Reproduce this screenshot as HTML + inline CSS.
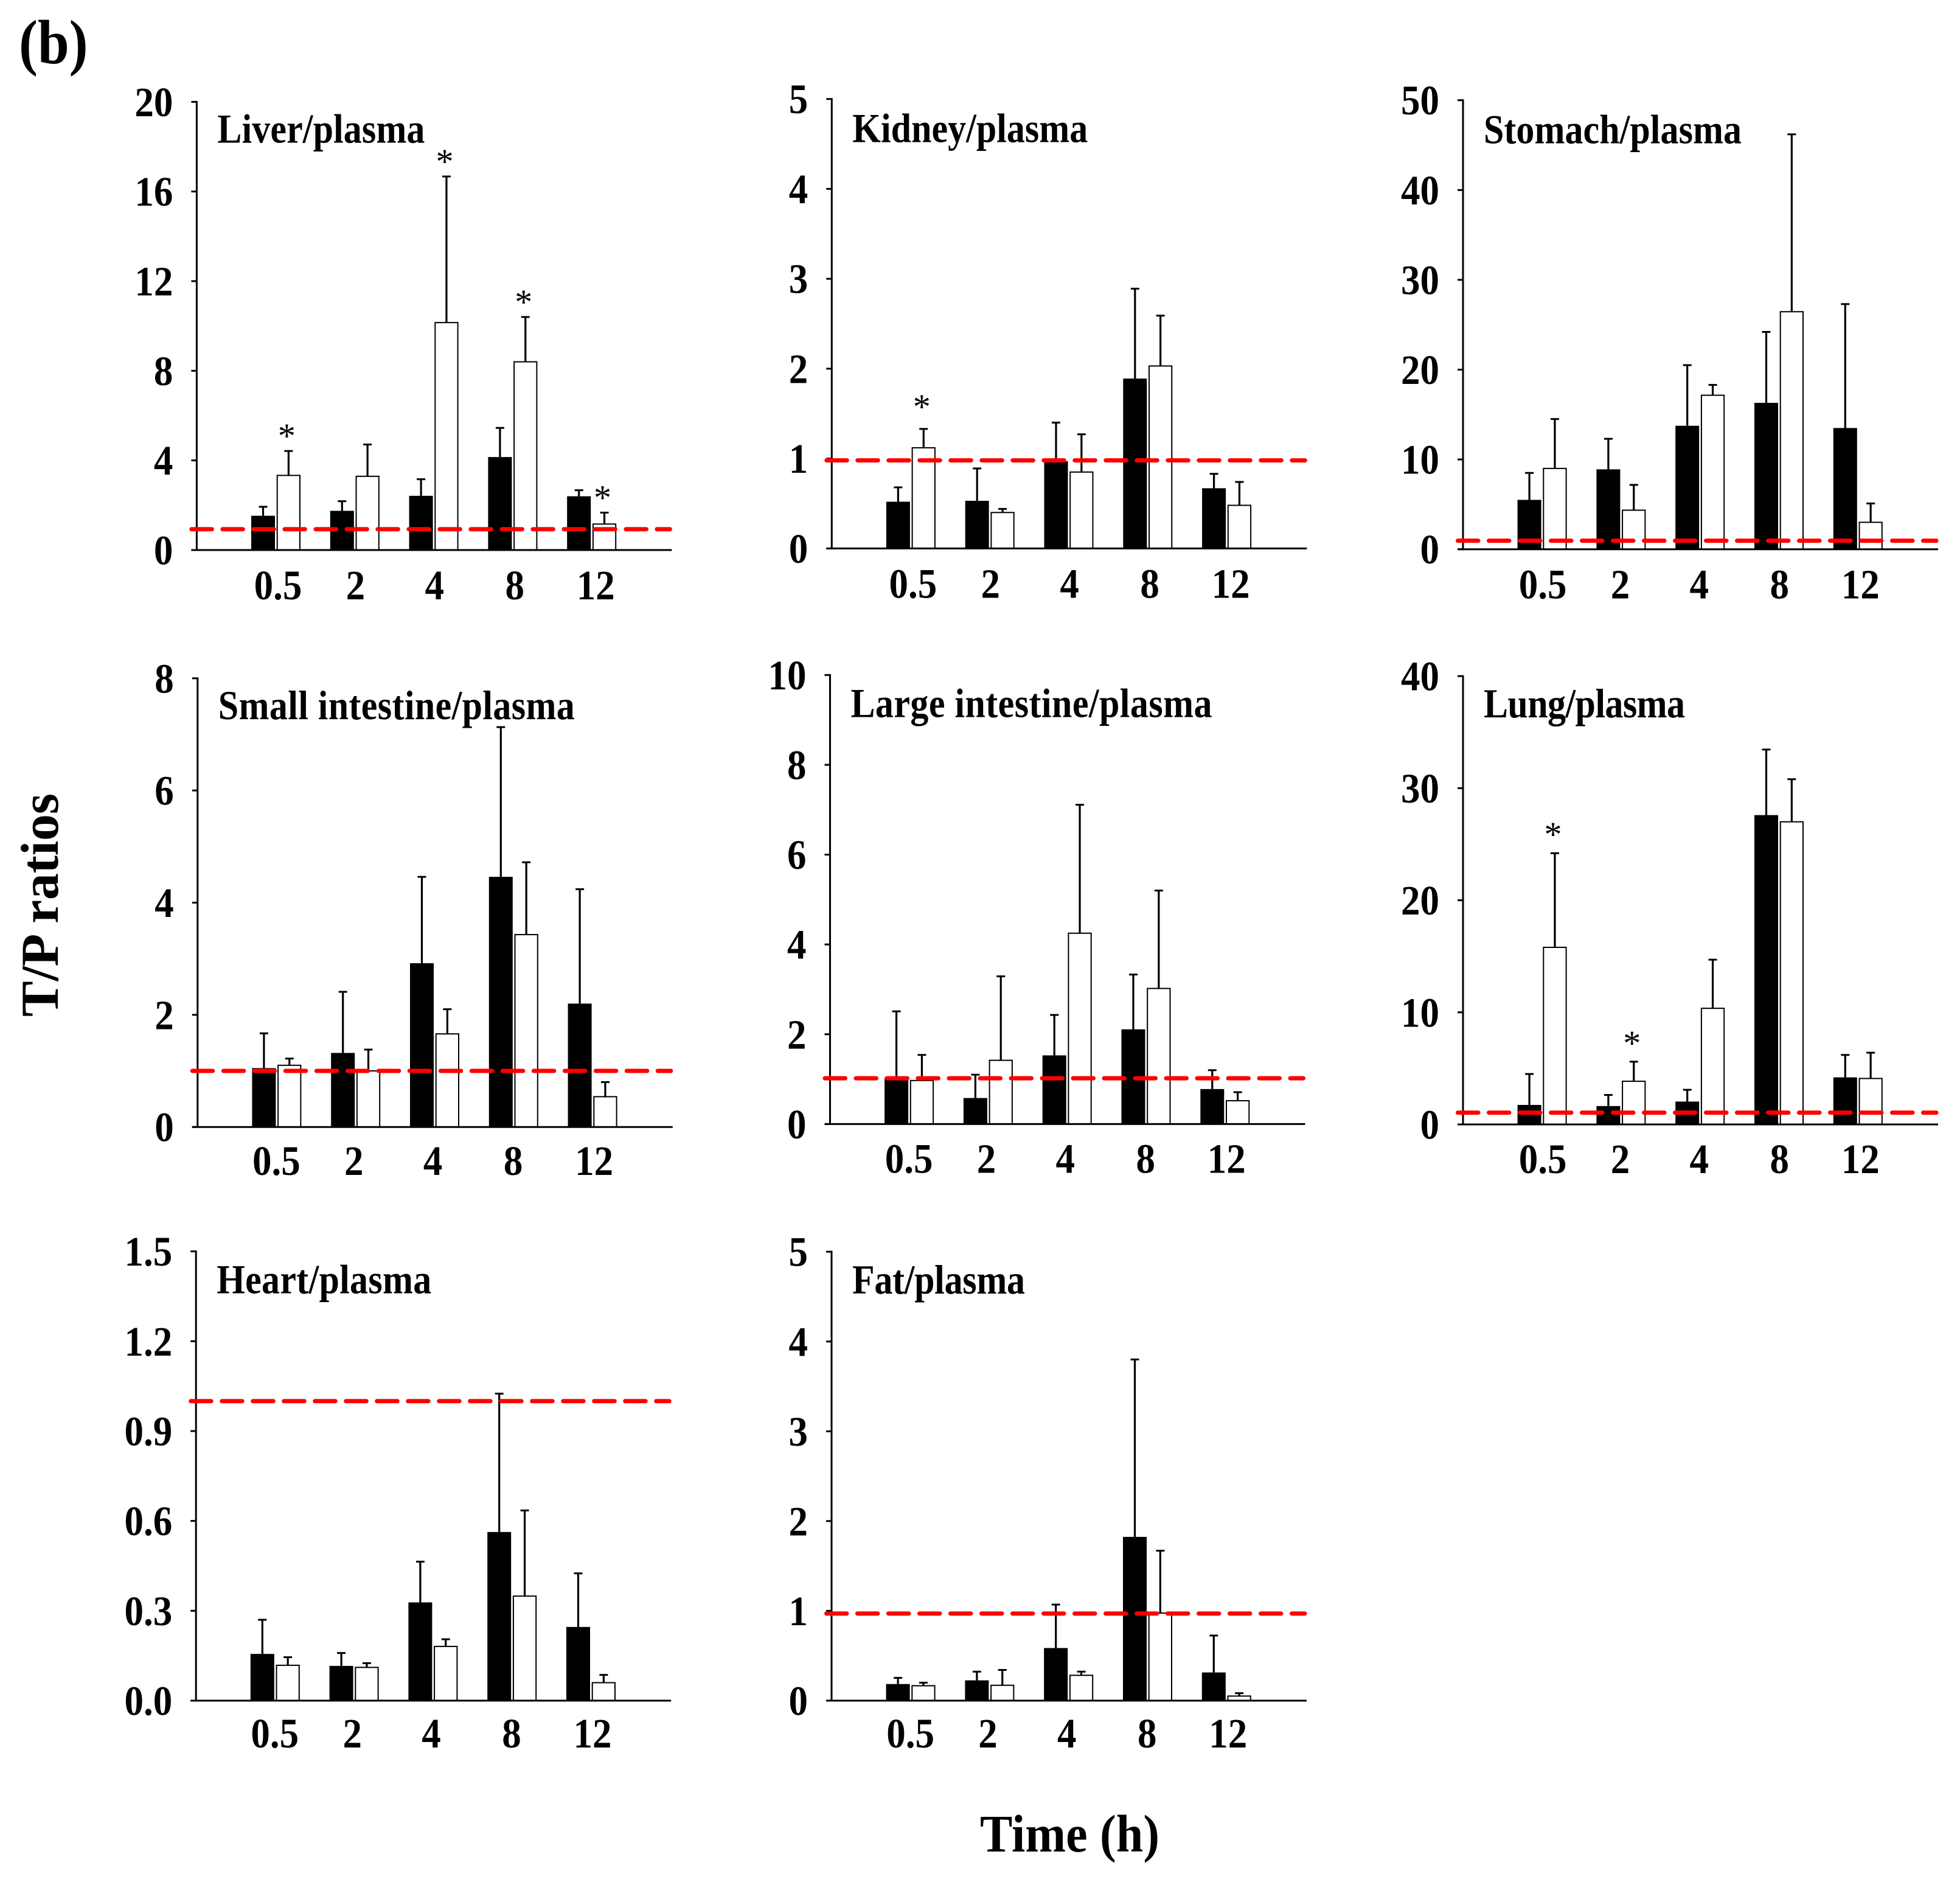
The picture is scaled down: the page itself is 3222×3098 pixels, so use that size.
<!DOCTYPE html>
<html lang="en">
<head>
<meta charset="utf-8">
<title>T/P ratios by tissue over time</title>
<style>
html,body{margin:0;padding:0;background:#fff;}
svg{display:block;}
text{font-family:"Liberation Serif",serif;font-weight:bold;fill:#000;}
</style>
</head>
<body>
<svg id="figure" xmlns="http://www.w3.org/2000/svg" width="3222" height="3098" viewBox="0 0 3222 3098">
  <rect x="0" y="0" width="3222" height="3098" fill="#fff"/>
  <text transform="translate(31,104) scale(1,1.1)" font-size="93">(b)</text>
  <text transform="translate(95,1671) rotate(-90)" font-size="88" textLength="367" lengthAdjust="spacing">T/P ratios</text>
  <text transform="translate(1611,3043) scale(1,1.08)" font-size="80" textLength="295" lengthAdjust="spacing">Time (h)</text>
</svg>
<script>
const timeCategories = ['0.5', '2', '4', '8', '12'];

const liverTicks = ['0', '4', '8', '12', '16', '20'];
const liverBlack = [1.53, 1.75, 2.42, 4.15, 2.40];
const liverBlackTop = [1.93, 2.18, 3.16, 5.45, 2.67];
const liverWhite = [3.33, 3.29, 10.15, 8.40, 1.16];
const liverWhiteTop = [4.42, 4.71, 16.67, 10.40, 1.67];
const liverStars = [0, 2, 3, 4];

const kidneyTicks = ['0', '1', '2', '3', '4', '5'];
const kidneyBlack = [0.52, 0.53, 0.97, 1.89, 0.67];
const kidneyBlackTop = [0.68, 0.89, 1.40, 2.89, 0.83];
const kidneyWhite = [1.12, 0.40, 0.85, 2.03, 0.48];
const kidneyWhiteTop = [1.33, 0.44, 1.27, 2.59, 0.74];
const kidneyStars = [0];

const stomachTicks = ['0', '10', '20', '30', '40', '50'];
const stomachBlack = [5.5, 8.9, 13.75, 16.3, 13.5];
const stomachBlackTop = [8.5, 12.3, 20.5, 24.2, 27.3];
const stomachWhite = [9.0, 4.35, 17.15, 26.45, 3.0];
const stomachWhiteTop = [14.5, 7.17, 18.3, 46.2, 5.1];
const stomachStars = [];

const smallIntestineTicks = ['0', '2', '4', '6', '8'];
const smallIntestineBlack = [1.05, 1.32, 2.92, 4.46, 2.20];
const smallIntestineBlackTop = [1.67, 2.41, 4.46, 7.13, 4.24];
const smallIntestineWhite = [1.10, 1.00, 1.66, 3.43, 0.54];
const smallIntestineWhiteTop = [1.22, 1.38, 2.10, 4.72, 0.80];
const smallIntestineStars = [];

const largeIntestineTicks = ['0', '2', '4', '6', '8', '10'];
const largeIntestineBlack = [1.03, 0.58, 1.53, 2.11, 0.78];
const largeIntestineBlackTop = [2.51, 1.10, 2.43, 3.33, 1.20];
const largeIntestineWhite = [0.97, 1.42, 4.25, 3.02, 0.52];
const largeIntestineWhiteTop = [1.54, 3.29, 7.11, 5.20, 0.71];
const largeIntestineStars = [];

const lungTicks = ['0', '10', '20', '30', '40'];
const lungBlack = [1.74, 1.64, 2.04, 27.6, 4.2];
const lungBlackTop = [4.5, 2.63, 3.09, 33.45, 6.2];
const lungWhite = [15.8, 3.85, 10.36, 27.0, 4.1];
const lungWhiteTop = [24.2, 5.6, 14.7, 30.8, 6.4];
const lungStars = [0, 1];

const heartTicks = ['0.0', '0.3', '0.6', '0.9', '1.2', '1.5'];
const heartBlack = [0.156, 0.116, 0.328, 0.563, 0.246];
const heartBlackTop = [0.27, 0.159, 0.464, 1.025, 0.425];
const heartWhite = [0.118, 0.111, 0.181, 0.349, 0.06];
const heartWhiteTop = [0.145, 0.125, 0.205, 0.635, 0.086];
const heartStars = [];

const fatTicks = ['0', '1', '2', '3', '4', '5'];
const fatBlack = [0.185, 0.226, 0.586, 1.824, 0.314];
const fatBlackTop = [0.254, 0.323, 1.07, 3.80, 0.725];
const fatWhite = [0.166, 0.171, 0.282, 0.975, 0.051];
const fatWhiteTop = [0.20, 0.342, 0.323, 1.67, 0.083];
const fatStars = [];

const panels = [
  {key: 'liver', title: 'Liver/plasma', ticks: liverTicks, black: liverBlack, blackTop: liverBlackTop, white: liverWhite, whiteTop: liverWhiteTop, stars: liverStars, ref: 0.93, axis: 323.4, top: 167.4, base: 904, starGap: 32, titleWidth: 341, titleDy: 0, labelDx: 0, labelDy: 0},
  {key: 'kidney', title: 'Kidney/plasma', ticks: kidneyTicks, black: kidneyBlack, blackTop: kidneyBlackTop, white: kidneyWhite, whiteTop: kidneyWhiteTop, stars: kidneyStars, ref: 0.98, axis: 1367.3, top: 162.7, base: 901.4, starGap: 44, titleWidth: 387, titleDy: 4, labelDx: 0, labelDy: 0},
  {key: 'stomach', title: 'Stomach/plasma', ticks: stomachTicks, black: stomachBlack, blackTop: stomachBlackTop, white: stomachWhite, whiteTop: stomachWhiteTop, stars: stomachStars, ref: 0.95, axis: 2405, top: 164.7, base: 902.7, starGap: 32, titleWidth: 424, titleDy: 4, labelDx: -2.5, labelDy: 0},
  {key: 'small-intestine', title: 'Small intestine/plasma', ticks: smallIntestineTicks, black: smallIntestineBlack, blackTop: smallIntestineBlackTop, white: smallIntestineWhite, whiteTop: smallIntestineWhiteTop, stars: smallIntestineStars, ref: 1.0, axis: 324.8, top: 1114.8, base: 1852.2, starGap: 32, titleWidth: 586, titleDy: 0, labelDx: -4, labelDy: -2},
  {key: 'large-intestine', title: 'Large intestine/plasma', ticks: largeIntestineTicks, black: largeIntestineBlack, blackTop: largeIntestineBlackTop, white: largeIntestineWhite, whiteTop: largeIntestineWhiteTop, stars: largeIntestineStars, ref: 1.02, axis: 1364.5, top: 1109.4, base: 1847.4, starGap: 32, titleWidth: 594, titleDy: 2, labelDx: -4, labelDy: -1},
  {key: 'lung', title: 'Lung/plasma', ticks: lungTicks, black: lungBlack, blackTop: lungBlackTop, white: lungWhite, whiteTop: lungWhiteTop, stars: lungStars, ref: 1.05, axis: 2405, top: 1111.2, base: 1848, starGap: 38, titleWidth: 331, titleDy: 1, labelDx: -2.5, labelDy: -1},
  {key: 'heart', title: 'Heart/plasma', ticks: heartTicks, black: heartBlack, blackTop: heartBlackTop, white: heartWhite, whiteTop: heartWhiteTop, stars: heartStars, ref: 1.0, axis: 322.2, top: 2056.6, base: 2795, starGap: 32, titleWidth: 353, titleDy: 2, labelDx: -4, labelDy: -4},
  {key: 'fat', title: 'Fat/plasma', ticks: fatTicks, black: fatBlack, blackTop: fatBlackTop, white: fatWhite, whiteTop: fatWhiteTop, stars: fatStars, ref: 0.97, axis: 1367, top: 2057.2, base: 2795, starGap: 32, titleWidth: 284, titleDy: 2, labelDx: -4, labelDy: -4}
];

const SVG_NS = 'http://www.w3.org/2000/svg';
const figure = document.getElementById('figure');
const firstBarOffset = 89.6;
const groupStep = 129.8;
const blackWidth = 39;
const whiteOffset = 42.7;
const whiteWidth = 37.3;
const axisLength = 781;
const labelNudges = [3, 0.6, 0.6, 2.8, 6];

function make(parent, tag, attrs, content) {
  const node = document.createElementNS(SVG_NS, tag);
  Object.keys(attrs).forEach(function (k) { node.setAttribute(k, attrs[k]); });
  if (content !== undefined) node.textContent = content;
  parent.appendChild(node);
  return node;
}

function drawError(group, cx, yBar, yTop, name) {
  const stem = make(group, 'line', {x1: cx, x2: cx, y1: yBar, y2: yTop, stroke: '#000', 'stroke-width': 3.2});
  
  
  const cap = make(group, 'line', {x1: cx - 7, x2: cx + 7, y1: yTop, y2: yTop, stroke: '#000', 'stroke-width': 3});
  
  
}

panels.forEach(function (p) {
  const maxValue = Number(p.ticks[p.ticks.length - 1]);
  const yScale = function (v) { return p.base - (v / maxValue) * (p.base - p.top); };
  const groupX = function (i) { return p.axis + firstBarOffset + groupStep * i; };

  const group = make(figure, 'g', {});
  
  

  timeCategories.forEach(function (cat, i) {
    const yB = yScale(p.black[i]);
    const blackBar = make(group, 'rect', {x: groupX(i), y: yB, width: blackWidth, height: p.base - yB, fill: '#000'});
    
    
    drawError(group, groupX(i) + blackWidth / 2, yB, yScale(p.blackTop[i]), p.key + '-black-' + cat + 'h');

    const yW = yScale(p.white[i]);
    const whiteBar = make(group, 'rect', {x: groupX(i) + whiteOffset, y: yW, width: whiteWidth, height: p.base - yW, fill: '#fff', stroke: '#000', 'stroke-width': 2});
    
    
    drawError(group, groupX(i) + whiteOffset + whiteWidth / 2, yW, yScale(p.whiteTop[i]), p.key + '-white-' + cat + 'h');

    const xLabel = make(group, 'text', {
      transform: 'translate(' + (groupX(i) + 41 + labelNudges[i] + p.labelDx) + ',' + (p.base + 81 + p.labelDy) + ') scale(1,1.1)',
      'font-size': 63, 'text-anchor': 'middle'
    }, cat);
    
    
  });

  p.stars.forEach(function (idx) {
    const star = make(group, 'text', {
      x: groupX(idx) + whiteOffset + whiteWidth / 2 - 3,
      y: yScale(p.whiteTop[idx]) - p.starGap + 27,
      'font-size': 58, 'font-weight': 'normal', style: 'font-weight:normal', 'text-anchor': 'middle'
    }, '*');
    
    
  });

  const yAxis = make(group, 'line', {x1: p.axis, x2: p.axis, y1: p.top - 1.5, y2: p.base + 1.5, stroke: '#000', 'stroke-width': 3});
  
  

  const xAxis = make(group, 'line', {x1: p.axis - 9, x2: p.axis + axisLength, y1: p.base, y2: p.base, stroke: '#000', 'stroke-width': 3});
  
  

  p.ticks.forEach(function (label) {
    const ty = yScale(Number(label));
    const tick = make(group, 'line', {x1: p.axis - 9, x2: p.axis, y1: ty, y2: ty, stroke: '#000', 'stroke-width': 3});
    
    
    const tickLabel = make(group, 'text', {
      transform: 'translate(' + (p.axis - 39) + ',' + (ty + 23.5) + ') scale(1,1.1)',
      'font-size': 63, 'text-anchor': 'end'
    }, label);
    
    
  });

  const title = make(group, 'text', {
    transform: 'translate(' + (p.axis + 34) + ',' + (p.top + 67 + p.titleDy) + ') scale(1,1.13)',
    'font-size': 60, textLength: p.titleWidth, lengthAdjust: 'spacing'
  }, p.title);
  
  

  const refY = yScale(p.ref);
  const refLine = make(group, 'line', {
    x1: p.axis - 8.5, x2: p.axis + 778, y1: refY, y2: refY,
    stroke: '#ff0000', 'stroke-width': 7, 'stroke-linecap': 'round', 'stroke-dasharray': '33.5 17.5'
  });
  
  
});
</script>
</body>
</html>
